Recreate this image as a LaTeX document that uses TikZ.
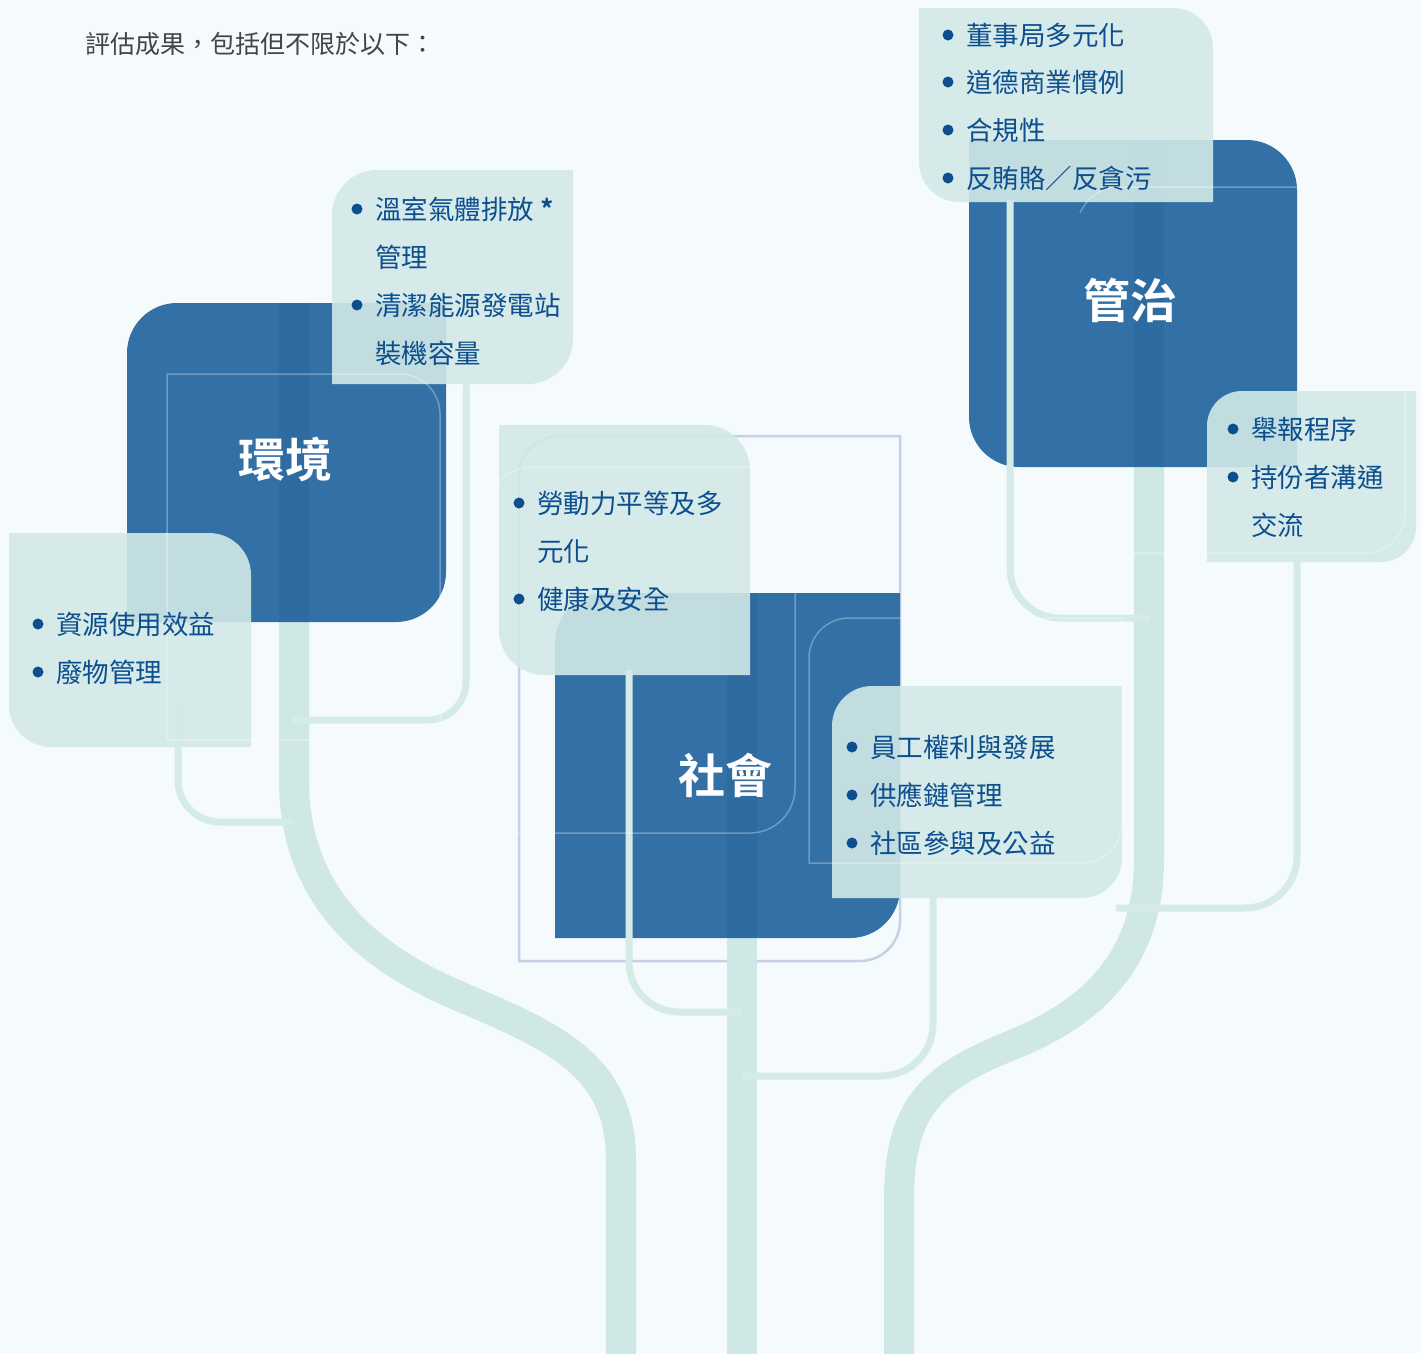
\documentclass[tikz,border=0pt]{standalone}
\usepackage{fontspec}
\newfontfamily\cjk{Noto Sans CJK TC}
\newfontfamily\cjkbold{Noto Sans CJK TC Bold}
\usetikzlibrary{calc}

\definecolor{pagebg}{HTML}{F5FAFD}
\definecolor{boxblue}{HTML}{3370A6}
\definecolor{stripblue}{HTML}{2E6BA1}
\definecolor{leafteal}{HTML}{D2E9E7}
\definecolor{trunkteal}{HTML}{CFE8E6}
\definecolor{twigteal}{HTML}{D5EBE8}
\definecolor{itemblue}{HTML}{0D4E8E}
\definecolor{framegray}{HTML}{C5D2E4}
\definecolor{introgray}{HTML}{444444}

% box outlines with two rounded corners (x1,y1,x2,y2,r)
\newcommand{\leafTLBR}[5]{(#1,#4) -- (#1,#2+#5) .. controls (#1,#2+0.448*#5) and (#1+0.448*#5,#2) .. (#1+#5,#2) -- (#3,#2) -- (#3,#4-#5) .. controls (#3,#4-0.448*#5) and (#3-0.448*#5,#4) .. (#3-#5,#4) -- cycle}
\newcommand{\leafTRBL}[5]{(#1,#2) -- (#3-#5,#2) .. controls (#3-0.448*#5,#2) and (#3,#2+0.448*#5) .. (#3,#2+#5) -- (#3,#4) -- (#1+#5,#4) .. controls (#1+0.448*#5,#4) and (#1,#4-0.448*#5) .. (#1,#4-#5) -- cycle}

\tikzset{%
  % Specifications for style of shapes and texts:
    bluebox/.style = {fill=boxblue},
    strip/.style = {fill=stripblue},
    leafbox/.style = {fill=leafteal, fill opacity=0.9},
    trunk/.style = {draw=trunkteal, line width=30pt},
    twig/.style = {draw=twigteal, line width=7pt, rounded corners=45},
    frame/.style = {draw=white, draw opacity=0.3, line width=1.5pt},
    outline/.style = {draw=framegray, line width=2.5pt},
    title/.style = {text=white, font=\cjkbold\fontsize{47}{50}\selectfont},
    item/.style = {anchor=west, inner sep=0pt, text=itemblue,
                   font=\cjk\fontsize{26.5}{30}\selectfont},
    dot/.style = {circle, fill=itemblue, inner sep=0pt, minimum size=11pt},
    intro/.style = {anchor=west, inner sep=0pt, text=introgray,
                    font=\cjk\fontsize{25}{30}\selectfont}
}

\begin{document}
\begin{tikzpicture}[x=1pt,y=-1pt]
\useasboundingbox (0,0) rectangle (1421,1353);
\clip (0,0) rectangle (1421,1353);
\fill[pagebg] (0,0) rectangle (1421,1353);

\coordinate (EnvTop) at (294,303); %left trunk
\coordinate (EnvBend) at (294,780);
\coordinate (EnvMid) at (480,1005);
\coordinate (EnvFoot) at (621,1160);
\coordinate (EnvRoot) at (621,1360);

\coordinate (SocTop) at (742,593); %middle trunk
\coordinate (SocRoot) at (742,1360);

\coordinate (GovTop) at (1149,467); %right trunk
\coordinate (GovBend) at (1149,860);
\coordinate (GovMid) at (1000,1050);
\coordinate (GovFoot) at (899,1200);
\coordinate (GovRoot) at (899,1360);

% intro line
\node[intro] (intro) at (85,44) {評估成果，包括但不限於以下：};

% frame round the social group
\draw[outline] \leafTLBR{519}{436}{900}{961}{40};

% trunks
\draw[trunk] (EnvTop) -- (EnvBend) .. controls (294,930) and (420,980) .. (EnvMid)
  .. controls (560,1040) and (621,1070) .. (EnvFoot) -- (EnvRoot);
\draw[trunk] (SocTop) -- (SocRoot);
\draw[trunk] (GovTop) -- (GovBend) .. controls (1149,990) and (1050,1030) .. (GovMid)
  .. controls (930,1080) and (899,1110) .. (GovFoot) -- (GovRoot);

% main boxes
\fill[bluebox] \leafTLBR{127}{303}{446}{622}{50};
\fill[bluebox] \leafTLBR{555}{593}{900}{938}{50};
\fill[bluebox] \leafTRBL{969}{140}{1297}{467}{50};
\fill[strip] (279,303) rectangle (309,622);
\fill[strip] (727,593) rectangle (757,938);
\fill[strip] (1134,140) rectangle (1164,467);

% twigs
\draw[twig, rounded corners=38] (466,380) -- (466,720) -- (292,720);
\draw[twig, rounded corners=42] (178,700) -- (178,822) -- (294,822);
\draw[twig, rounded corners=50] (629,670) -- (629,1012) -- (742,1012);
\draw[twig, rounded corners=52] (933,895) -- (933,1076) -- (742,1076);
\draw[twig, rounded corners=50] (1010,200) -- (1010,618) -- (1150,618);
\draw[twig, rounded corners=52] (1297,560) -- (1297,908) -- (1116,908);

% item boxes
\fill[leafbox] \leafTLBR{332}{170}{573}{384}{45};
\fill[leafbox] \leafTRBL{9}{533}{251}{747}{42};
\fill[leafbox] \leafTRBL{499}{425}{750}{675}{45};
\fill[leafbox] \leafTLBR{832}{686}{1122}{898}{40};
\fill[leafbox] \leafTRBL{919}{8}{1213}{202}{40};
\fill[leafbox] \leafTLBR{1207}{391}{1416}{562}{35};

% thin light frames
\draw[frame] (167,740) -- (167,374) -- (400,374) .. controls (422,374) and (440,392) .. (440,414) -- (440,740) -- cycle;
\draw[frame] \leafTLBR{487}{467}{795}{833}{45};
\draw[frame] \leafTLBR{809}{618}{1122}{863}{40};
\draw[frame] (1080,213) .. controls (1088,196) and (1102,187) .. (1118,187) -- (1405,187)
  -- (1405,513) .. controls (1405,535) and (1387,553) .. (1365,553) -- (1134,553);

% titles
\node[title] (envTitle) at (285,460) {環境};
\node[title] (socTitle) at (725,775) {社會};
\node[title] (govTitle) at (1130,300) {管治};

% environment items
\node[dot] (envDotA) at (357,209) {};
\node[item] (envItemA) at (375,209) {溫室氣體排放 {\cjkbold *}};
\node[item] (envItemAb) at (375,257) {管理};
\node[dot] (envDotB) at (357,305) {};
\node[item] (envItemB) at (375,305) {清潔能源發電站};
\node[item] (envItemBb) at (375,353) {裝機容量};
\node[dot] (envDotC) at (38,624) {};
\node[item] (envItemC) at (56,624) {資源使用效益};
\node[dot] (envDotD) at (38,672) {};
\node[item] (envItemD) at (56,672) {廢物管理};

% social items
\node[dot] (socDotA) at (519,503) {};
\node[item] (socItemA) at (537,503) {勞動力平等及多};
\node[item] (socItemAb) at (537,551) {元化};
\node[dot] (socDotB) at (519,599) {};
\node[item] (socItemB) at (537,599) {健康及安全};
\node[dot] (socDotC) at (852,747) {};
\node[item] (socItemC) at (870,747) {員工權利與發展};
\node[dot] (socDotD) at (852,795) {};
\node[item] (socItemD) at (870,795) {供應鏈管理};
\node[dot] (socDotE) at (852,843) {};
\node[item] (socItemE) at (870,843) {社區參與及公益};

% governance items
\node[dot] (govDotA) at (948,35) {};
\node[item] (govItemA) at (966,35) {董事局多元化};
\node[dot] (govDotB) at (948,82) {};
\node[item] (govItemB) at (966,82) {道德商業慣例};
\node[dot] (govDotC) at (948,130) {};
\node[item] (govItemC) at (966,130) {合規性};
\node[dot] (govDotD) at (948,178) {};
\node[item] (govItemD) at (966,178) {反賄賂／反貪污};
\node[dot] (govDotE) at (1233,429) {};
\node[item] (govItemE) at (1251,429) {舉報程序};
\node[dot] (govDotF) at (1233,477) {};
\node[item] (govItemF) at (1251,477) {持份者溝通};
\node[item] (govItemFb) at (1251,525) {交流};

\end{tikzpicture}
\end{document}
